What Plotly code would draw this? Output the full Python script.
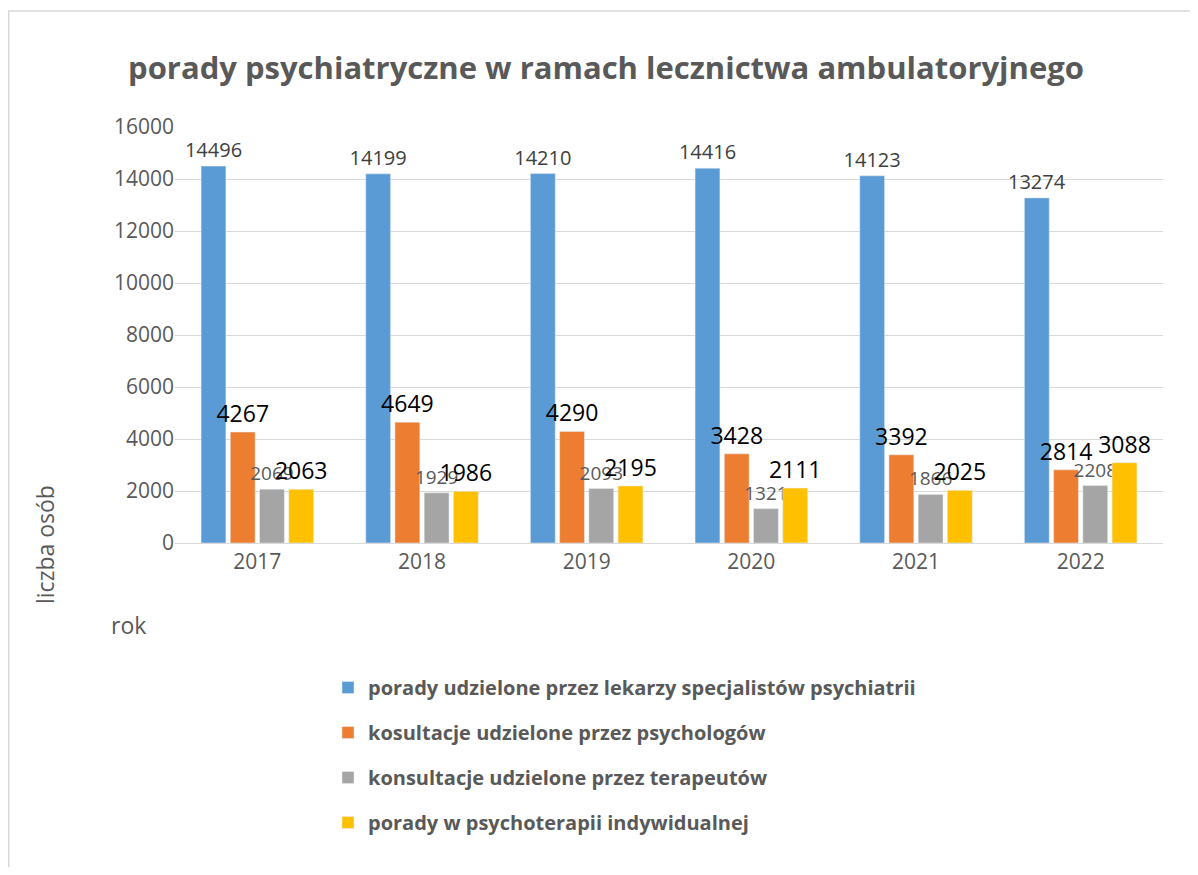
import plotly.graph_objects as go

years = ["2017", "2018", "2019", "2020", "2021", "2022"]
lekarze = [14496, 14199, 14210, 14416, 14123, 13274]
psycholodzy = [4267, 4649, 4290, 3428, 3392, 2814]
terapeuci = [2069, 1929, 2093, 1321, 1866, 2208]
psychoterapia = [2063, 1986, 2195, 2111, 2025, 3088]

names = [
    "porady udzielone przez lekarzy specjalistów psychiatrii",
    "kosultacje udzielone przez psychologów",
    "konsultacje udzielone przez terapeutów",
    "porady w psychoterapii indywidualnej",
]
colors = ["#5B9BD5", "#ED7D31", "#A5A5A5", "#FFC000"]
label_fonts = [
    dict(size=20, color="#404040"),
    dict(size=23, color="#000000"),
    dict(size=19, color="#595959"),
    dict(size=23, color="#000000"),
]
series = [lekarze, psycholodzy, terapeuci, psychoterapia]

FONT = "Open Sans"
OFF = 8  # page body margin
W, H = 1198 - 2 * OFF, 875 - 2 * OFF
# plot area in screen pixels of the reference
SX0, SX1, SY0, SY1 = 175, 1163, 127, 543
L, T = SX0 - OFF, SY0 - OFF
R = W - (SX1 - OFF)
B = H - (SY1 - OFF)
pw, ph = SX1 - SX0, SY1 - SY0


def px(x):
    return (x - SX0) / pw


def py(y):
    return (SY1 - y) / ph


fig = go.Figure()
for i, (nm, col, vals, lf) in enumerate(zip(names, colors, series, label_fonts)):
    fig.add_trace(go.Bar(
        x=years, y=vals, name=f"<b>{nm}</b>", marker_color=col,
        text=[str(v) for v in vals], textposition="outside",
        textfont=dict(family=FONT, **lf), constraintext="none",
        cliponaxis=False, legendgroup=f"g{i}",
    ))

fig.update_layout(
    width=W, height=H,
    margin=dict(l=L, r=R, t=T, b=B),
    paper_bgcolor="white", plot_bgcolor="white",
    barmode="group", bargap=0.29, bargroupgap=0.15,
    font=dict(family=FONT, color="#595959"),
    title=dict(text="<b>porady psychiatryczne w ramach lecznictwa ambulatoryjnego</b>",
               x=(606 - OFF) / W, xanchor="center", y=1 - (68 - OFF) / H, yanchor="middle",
               font=dict(size=31, color="#595959", family=FONT)),
    yaxis=dict(range=[0, 16000], dtick=2000, tickformat="d", showgrid=True,
               gridcolor="#D9D9D9", gridwidth=1, zeroline=False,
               tickfont=dict(size=21, color="#595959"), ticks="", showline=False),
    xaxis=dict(showline=True, linecolor="#D9D9D9", tickfont=dict(size=21, color="#595959"),
               ticks=""),
    legend=dict(orientation="v", x=px(328), y=py(668), xanchor="left", yanchor="top",
                font=dict(size=20, color="#595959", family=FONT), tracegroupgap=16),
    showlegend=True,
)

fig.add_annotation(text="liczba osób", xref="paper", yref="paper", x=px(45), y=py(545),
                   xanchor="center", yanchor="middle",
                   textangle=-90, showarrow=False, font=dict(size=23, color="#595959"))
fig.add_annotation(text="rok", xref="paper", yref="paper", x=px(128), y=py(625),
                   xanchor="center", yanchor="middle",
                   showarrow=False, font=dict(size=23, color="#595959"))

fig.add_shape(type="line", xref="paper", yref="paper", x0=px(OFF), x1=px(1198), y0=py(11),
              y1=py(11), line=dict(color="#D9D9D9", width=1.5))
fig.add_shape(type="line", xref="paper", yref="paper", x0=px(OFF + 0.75), x1=px(OFF + 0.75),
              y0=py(11), y1=py(880), line=dict(color="#D9D9D9", width=1.5))

fig.write_html("out.html")
